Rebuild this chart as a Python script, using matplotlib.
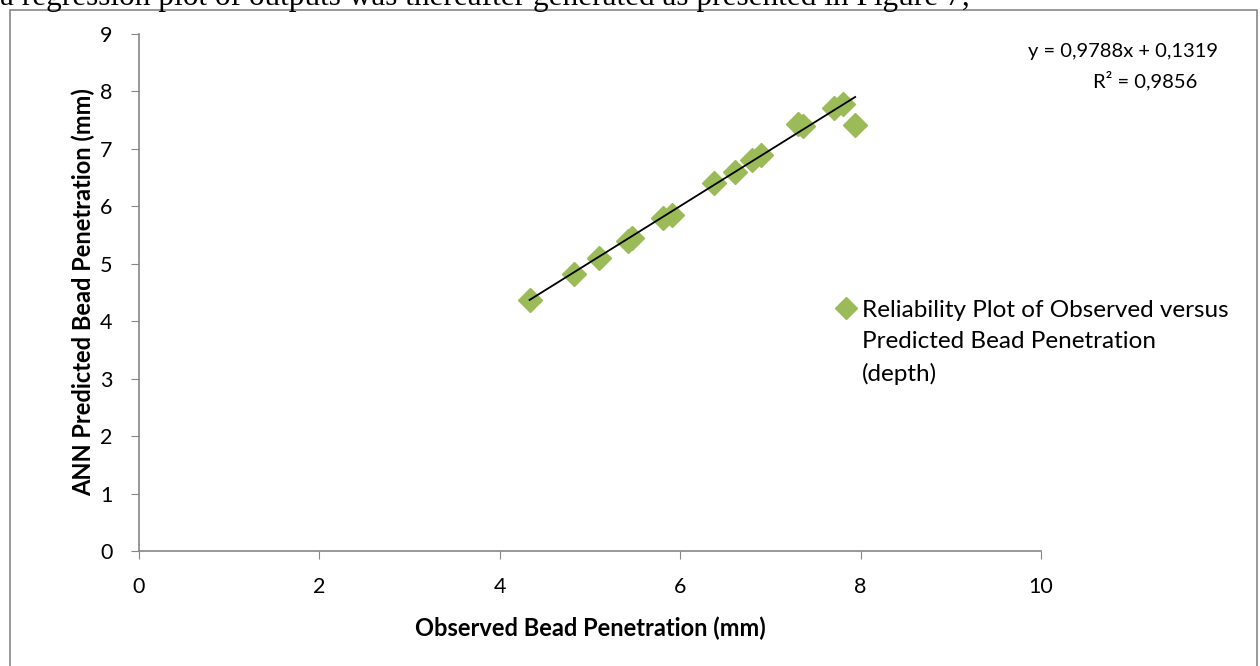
import matplotlib
matplotlib.use("Agg")
import matplotlib.pyplot as plt
from matplotlib.patches import Rectangle
from matplotlib.lines import Line2D
import numpy as np

# 读图估计的数据
observed = [4.33, 4.82, 5.10, 5.42, 5.47, 5.81, 5.91, 6.38, 6.61, 6.80, 6.90,
            7.31, 7.36, 7.70, 7.81, 7.94]
predicted = [4.37, 4.83, 5.10, 5.40, 5.45, 5.79, 5.85, 6.40, 6.59, 6.81, 6.89,
             7.43, 7.40, 7.71, 7.79, 7.42]
slope, intercept = 0.9788, 0.1319
x_ticks = [0, 2, 4, 6, 8, 10]
y_ticks = list(range(10))
legend_lines = ["Reliability Plot of Observed versus", "Predicted Bead Penetration", "(depth)"]

plt.rcParams["font.family"] = ["Lato", "DejaVu Sans"]

W, H = 1260, 666
fig = plt.figure(figsize=(W / 100, H / 100), dpi=100)
ax = fig.add_axes([139 / W, 1 - 551 / H, (1041 - 139) / W, (551 - 34) / H])

green = "#9BBB59"
ax.plot(observed, predicted, linestyle="none", marker="D", markersize=12, color=green)

# 趋势线
xs = np.array([min(observed), max(observed)])
ax.plot(xs, slope * xs + intercept, color="black", linewidth=1.3)

ax.set_xlim(0, 10)
ax.set_ylim(0, 9)
ax.set_xticks(x_ticks)
ax.set_yticks(y_ticks)
ax.tick_params(direction="out", length=6, color="#868686", labelsize=15.5)
ax.tick_params(axis="x", pad=13)
ax.tick_params(axis="y", pad=13)
for side in ["top", "right"]:
    ax.spines[side].set_visible(False)
for side in ["left", "bottom"]:
    ax.spines[side].set_color("#868686")
    ax.spines[side].set_linewidth(1.2)

ax.set_xlabel("Observed Bead Penetration (mm)", fontsize=17, fontweight="bold")
ax.set_ylabel("ANN Predicted Bead Penetration (mm)", fontsize=17, fontweight="bold")
ax.xaxis.set_label_coords(0.5, -(628 - 551) / (551 - 34), transform=ax.transAxes)
ax.yaxis.set_label_coords(-(139 - 83) / (1041 - 139), 0.5, transform=ax.transAxes)
ax.xaxis.label.set_va("center")
ax.yaxis.label.set_va("center")

# 方程与 R²
fig.text(1218 / W, 1 - 51 / H, "y = 0,9788x + 0,1319", fontsize=14.5, ha="right", va="center")
fig.text(1197 / W, 1 - 81 / H, "R² = 0,9856", fontsize=14.5, ha="right", va="center")

# 图例
fig.add_artist(Line2D([846 / W], [1 - 308 / H], transform=fig.transFigure, marker="D",
                      markersize=11, color=green, linestyle="none"))
for i, line in enumerate(legend_lines):
    fig.text(862 / W, 1 - (310 + 32 * i) / H, line, fontsize=17.5, ha="left", va="center")

# 外框与上方截断的正文
fig.patches.append(Rectangle((10 / W, -0.01), 1247 / W, 1 - 10 / H + 0.01,
                             transform=fig.transFigure, fill=False, edgecolor="#888888",
                             linewidth=1.2))
fig.text(0, 1 - 5 / H, "a regression plot of outputs was thereafter generated as presented in Figure 7;",
         fontsize=22.5, family=["Liberation Serif"], ha="left", va="baseline")

fig.savefig("out.png", dpi=100)
